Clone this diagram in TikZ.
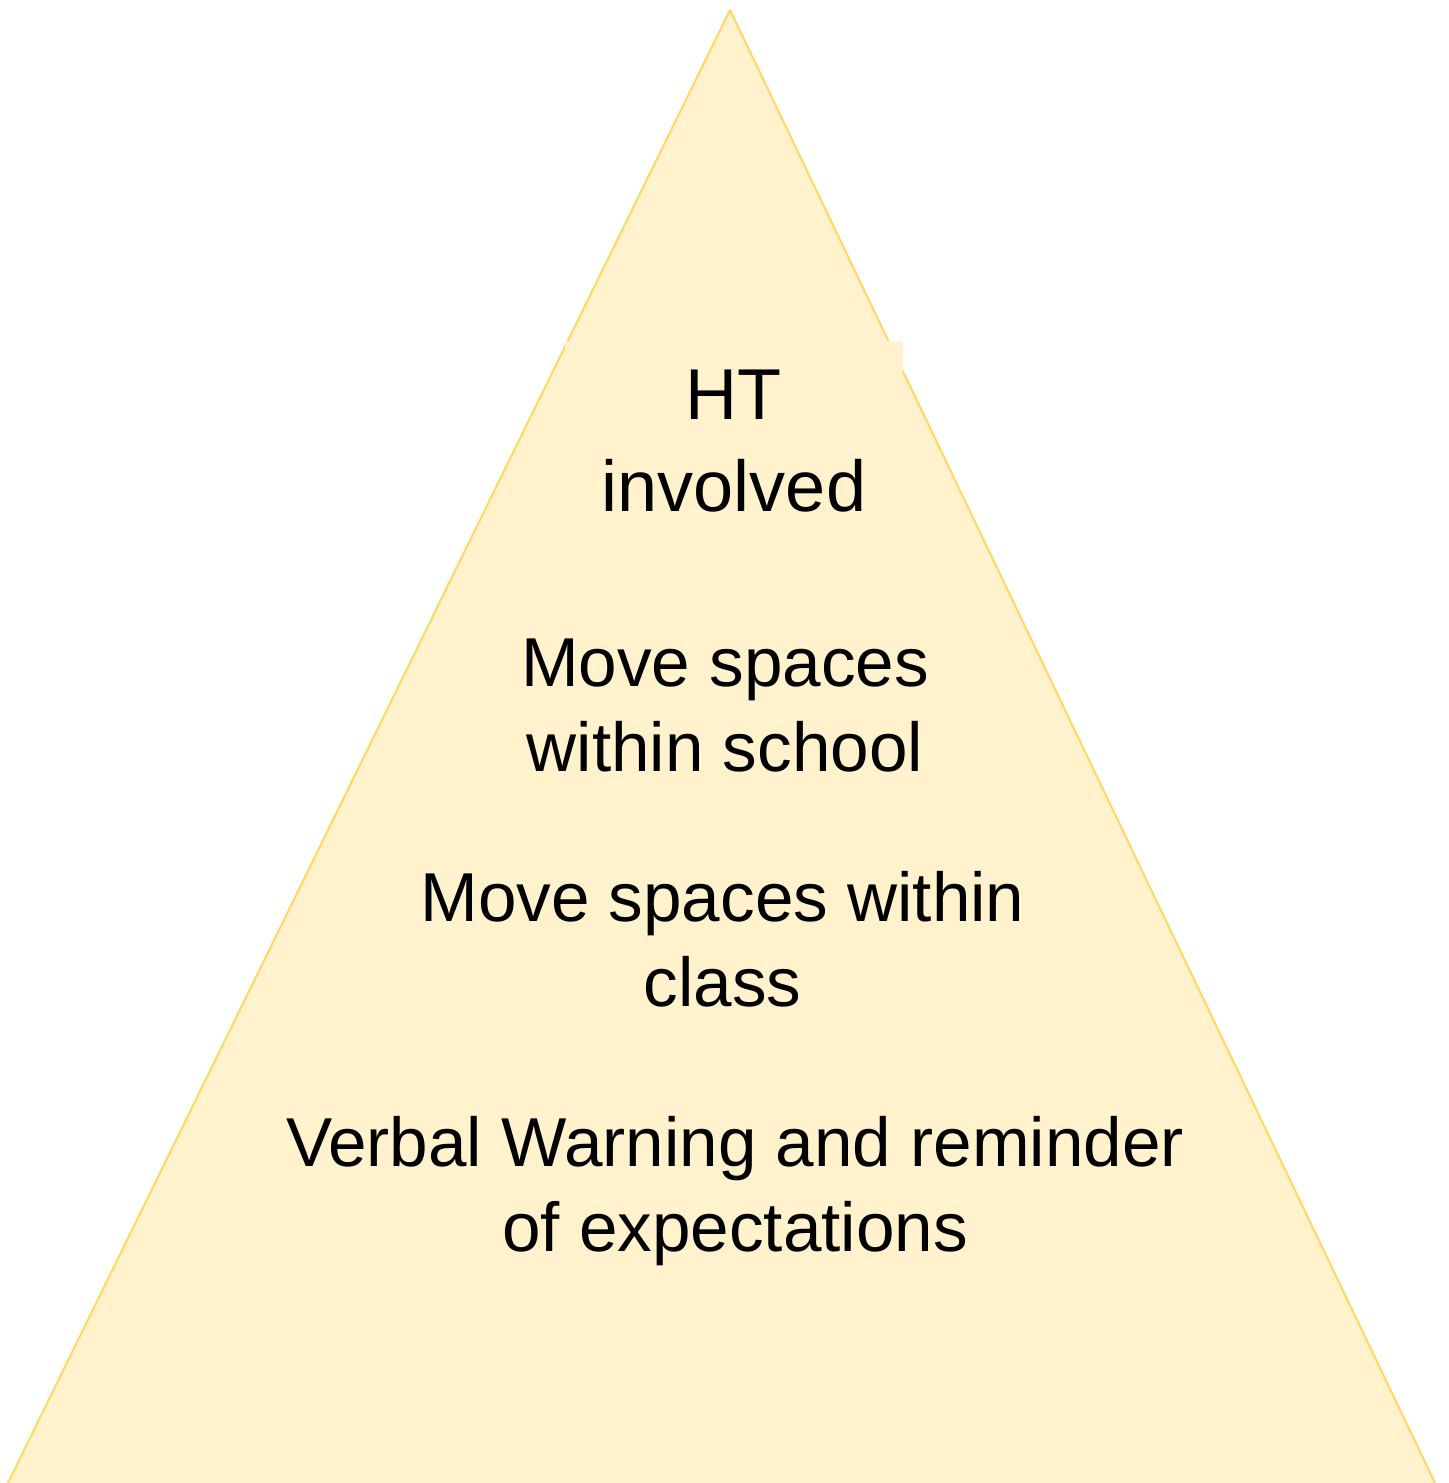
\documentclass[tikz,border=0pt]{standalone}
\usepackage{fontspec}
\setmainfont{Liberation Sans}
\usetikzlibrary{positioning}
\definecolor{pfill}{HTML}{FFF2CC}
\definecolor{pline}{HTML}{FFD966}
\tikzset{level/.style = {align = center, inner sep = 0, anchor = base,
                         font = \fontsize{19.7}{24.2}\selectfont}}
\tikzset{toplevel/.style = {align = center, fill = pfill, inner xsep = 0,
                            inner ysep = 0.29cm, text width = 3.38cm, anchor = north,
                            font = \fontsize{20.5}{26.2}\selectfont}}

\begin{document}
\begin{tikzpicture}
    \useasboundingbox (0, 0) rectangle (14.49, 14.83);

    \coordinate (apex) at (7.30, 14.73);
    \coordinate (bl) at (0.07, -0.02);
    \coordinate (br) at (14.36, -0.02);
    \draw [pline, fill = pfill, line width = 0.6pt, line join = round] (apex) -- (bl) -- (br) -- cycle;

    \node [toplevel] (ht) at (7.34, 11.43) {HT\\involved};
    \node [level] (school) at (7.25, 7.11) {Move spaces\\within school};
    \node [level] (class) at (7.225, 4.76) {Move spaces within\\class};
    \node [level] (verbal) at (7.35, 2.31) {Verbal Warning and reminder\\of expectations};

  \end{tikzpicture}
\end{document}
